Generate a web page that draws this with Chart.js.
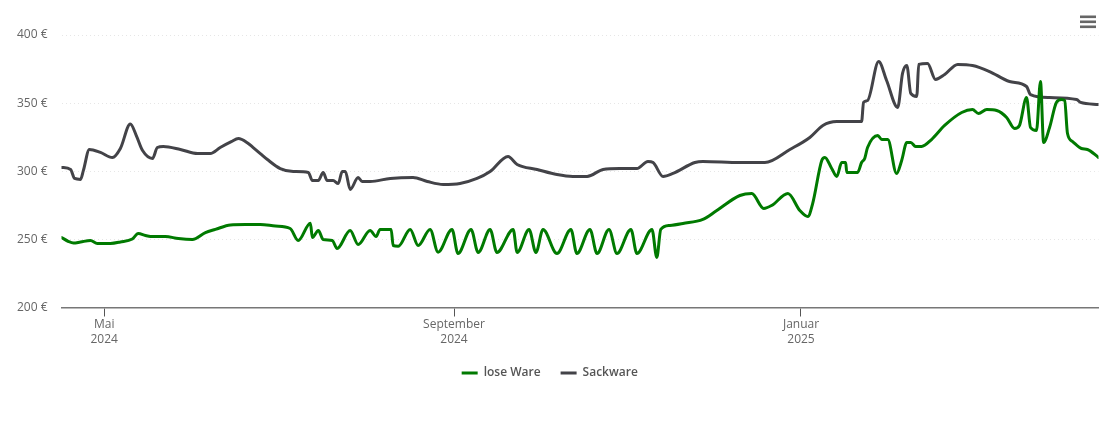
<!DOCTYPE html>
<html>
<head>
<meta charset="utf-8">
<style>html,body{margin:0;padding:0;background:#fff}canvas{display:block}</style>
<script src="https://cdn.jsdelivr.net/npm/chart.js@4"></script>
</head>
<body>
<canvas id="c" width="1110" height="422"></canvas>
<script>
// Days since 16 April 2024
const loseDays = [0,2.5,4.2,6.7,10.2,12.6,17.2,20.7,24.9,27,29.5,31.3,36.5,41.1,46,50.6,54.1,59.4,64.6,69.9,75.2,80.4,83.2,87.5,88.2,90.3,92,95.2,96.9,101.5,104.3,108.5,110.6,112,115.9,116.6,118.4,122.6,125.4,129.6,132.4,137.3,139.4,144,146.5,150.7,153.1,158.8,160.2,164.4,166.8,169.3,174.2,179.1,181.2,185.8,188.3,192.5,195.3,200.2,202.3,207.6,209.3,210.7,213.9,218.5,225.5,230.4,238.5,242.7,246.9,249.7,255.4,259.6,262.4,264.1,267.3,268.4,270.8,272.6,274.3,275.7,276.1,279.9,281.3,282.4,283.4,287,288.4,290.5,293.6,295.4,297.2,298.6,300.3,302.4,305.9,310.5,316.5,320.3,322.4,325.3,328.8,332.3,335.1,336.8,339.3,340.7,342.8,344.2,345.3,347.4,349.8,351.6,352.7,353.7,355.5,358.6,360.7,364.6];
const loseValues = [251.4,248.4,247.3,248.1,249.2,247,247,248.1,250.3,254.3,252.8,252.1,252.1,250.6,249.9,255,257.3,260.6,260.9,260.9,259.8,258,249.2,261.9,251.4,256.5,249.9,249.2,243.3,256.5,246.2,256.5,252.1,257.3,257.3,245.5,245,257.3,245.5,257.3,240.6,257.3,239.6,257.3,240.4,257.3,240.4,257.3,240.4,257.3,240.4,257.3,239.6,257.3,239.6,257.3,239.6,257.3,239.6,257.3,239.6,257.3,236.7,257.3,260.2,261.7,264.6,271.2,282.2,283.7,272.7,274.9,283.7,271.2,266.8,276.3,307.9,310.1,302,296.2,306.4,306.4,299.1,299.1,306.4,309.4,317.4,326.2,323.3,323.3,298.4,307.9,321.1,321.1,318.2,318.2,323.3,333.6,343.1,345.3,342.4,345.3,344.6,339.5,331.4,333.6,354.1,332.1,329.9,365.9,321.1,332.1,350.5,352.7,351.9,327.7,321.8,316.7,316,310.1];
const sackDays = [0,3.2,4.6,6.7,7.7,9.8,13.7,17.9,20.7,24.2,26.3,28.5,32,33.7,35.8,41.8,47.8,52.3,55.8,59.7,62.2,65.3,67.4,69.9,72.4,76.9,81.5,86.8,88.2,90.3,92,93.4,95.5,97.3,98.7,99.8,101.5,104.3,105.7,108.5,115.6,123.6,128.6,134.2,140.1,146.1,150.7,157,160.2,167.2,174.2,179.8,184.8,190.4,196.3,202.3,206.2,208,211.5,215,222.7,225.5,238.5,247.3,256.1,263.1,267.7,272.6,281.3,282,283.4,287.3,290.1,294,295.7,297.2,298.6,300.7,301.4,304.5,307.3,310.5,315.1,320.3,326.3,333.3,339.3,340.7,347.4,356.9,358.3,364.6];
const sackValues = [302.8,301.3,294.7,294,300.6,316,313.8,310.1,316.7,334.7,326.2,315.2,309.4,317.4,318.2,316,313,313,317.4,321.7,324,321,317.4,313,308.6,302,299.8,299.1,293.2,293.2,299.1,293.2,293.2,291,299.8,299.8,286.6,295.4,292.5,292.5,294.7,295.4,292.5,290.3,291,294.7,299.8,310.8,305,301.3,297.6,296.2,296.2,301.3,302,302,307.2,306.4,296.2,298.4,306.4,307.2,306.4,306.4,316,324.8,333.6,336.5,336.5,350.5,351.9,380.6,366.6,346.8,371.8,377.6,357.1,354.9,378.4,379.1,367.4,371,378.4,377.6,373.2,365.9,362.2,356.3,354.1,352.7,350.5,349];
const tickDays = [15,138,260];
const tickLabels = [["Mai","2024"],["September","2024"],["Januar","2025"]];
const seriesNames = ["lose Ware","Sackware"];

const pairs = (xs, ys) => xs.map((x,i)=>({x, y:ys[i]}));

const menuIcon = {
  id:'menuIcon',
  afterDraw(chart){
    const ctx = chart.ctx;
    ctx.save();
    ctx.fillStyle = '#666';
    [15.5,20.5,25.5].forEach(y=>{
      ctx.fillRect(1080,y,16,2.6);
    });
    ctx.restore();
  }
};

Chart.defaults.font.family = '"Open Sans", sans-serif';
new Chart(document.getElementById('c'),{
  type:'line',
  data:{datasets:[
    {label:seriesNames[0],data:pairs(loseDays,loseValues),borderColor:'#007a00',backgroundColor:'#007a00',borderWidth:3},
    {label:seriesNames[1],data:pairs(sackDays,sackValues),borderColor:'#434348',backgroundColor:'#434348',borderWidth:3}
  ]},
  options:{
    responsive:false,
    animation:false,
    events:[],
    layout:{padding:{top:35,right:11.5,left:1,bottom:33}},
    elements:{
      point:{radius:0},
      line:{borderWidth:3,cubicInterpolationMode:'monotone',borderCapStyle:'round',borderJoinStyle:'round'}
    },
    plugins:{
      tooltip:{enabled:false},
      legend:{
        position:'bottom',
        labels:{usePointStyle:true,pointStyle:'line',pointStyleWidth:16,boxHeight:3,padding:20,color:'#555',font:{size:12,weight:'600'}}
      }
    },
    scales:{
      x:{
        type:'linear',min:0,max:364.6,
        afterBuildTicks(a){a.ticks=tickDays.map(v=>({value:v}));},
        afterFit(a){a.height-=1.5;},
        grid:{drawOnChartArea:false,drawTicks:true,tickLength:9,color:'#555',lineWidth:1},
        border:{display:true,color:'#777',width:1.5},
        ticks:{autoSkip:false,maxRotation:0,color:'#666',font:{size:12,lineHeight:1.25},padding:1,
          callback(v){const i=tickDays.indexOf(v);return i<0?'':tickLabels[i];}}
      },
      y:{
        min:200,max:400,
        afterFit(a){a.width=60.5;},
        grid:{color:'#e6e6e6',lineWidth:1,drawTicks:false},
        border:{display:false,dash:[1,3]},
        ticks:{stepSize:50,color:'#666',font:{size:12},padding:14,callback(v){return v+' €';}}
      }
    }
  },
  plugins:[menuIcon]
});
</script>
</body>
</html>
